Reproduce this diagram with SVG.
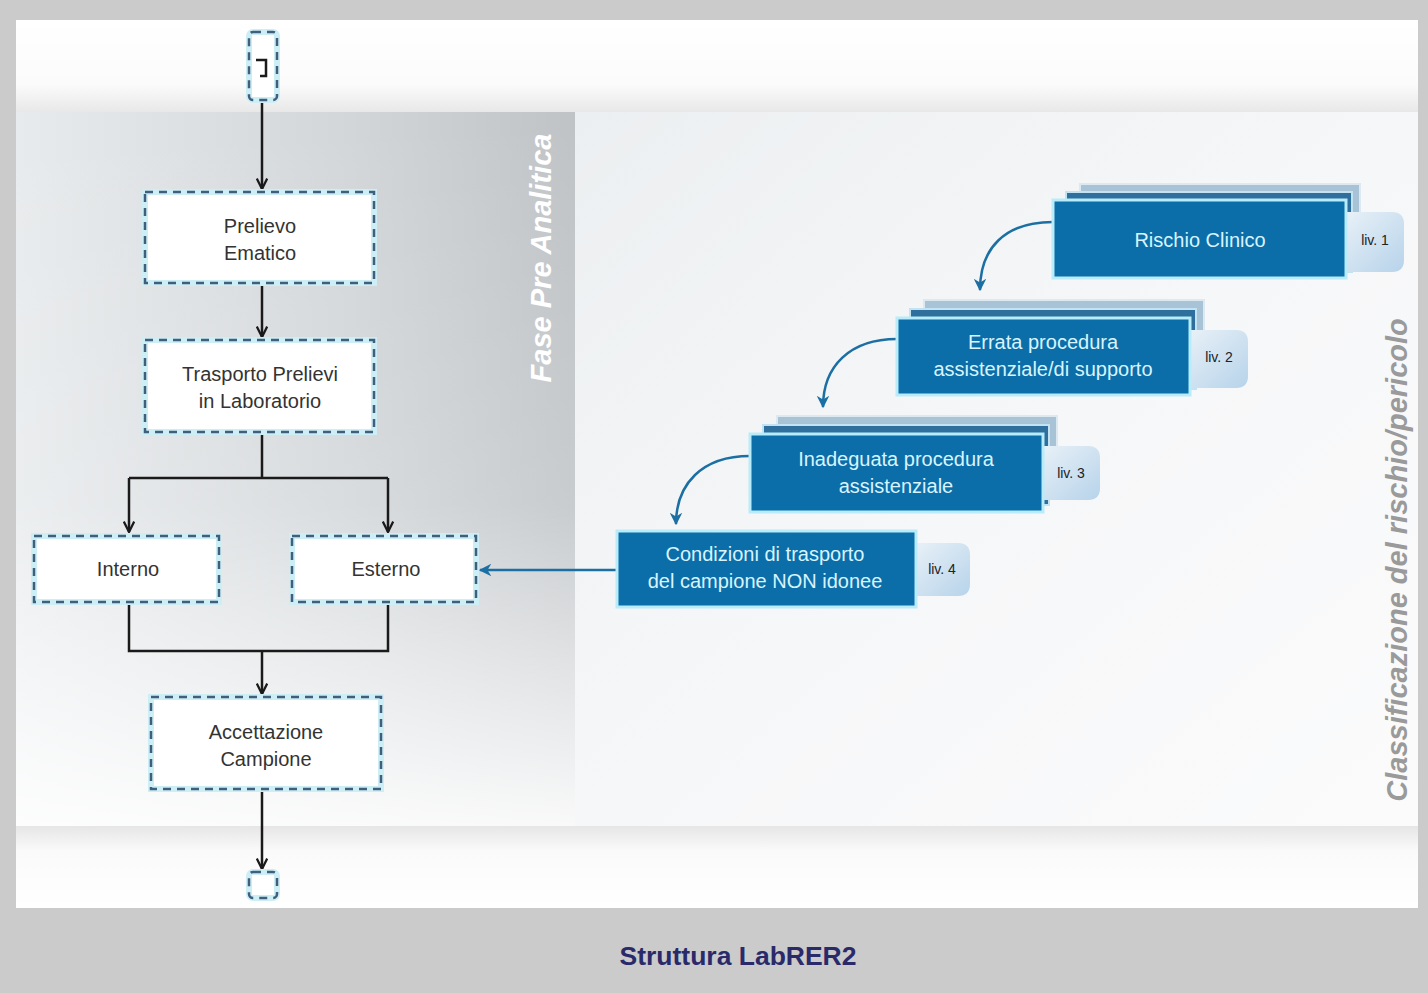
<svg xmlns="http://www.w3.org/2000/svg" width="1428" height="993" viewBox="0 0 1428 993">
<defs>
<linearGradient id="leftH" x1="0" y1="0" x2="1" y2="0">
<stop offset="0" stop-color="#e8ebed"/>
<stop offset="0.6" stop-color="#d2d6d9"/>
<stop offset="1" stop-color="#bfc3c6"/>
</linearGradient>
<linearGradient id="leftV" x1="0" y1="0" x2="0" y2="1">
<stop offset="0" stop-color="#ffffff" stop-opacity="0"/>
<stop offset="0.55" stop-color="#ffffff" stop-opacity="0.15"/>
<stop offset="1" stop-color="#ffffff" stop-opacity="0.9"/>
</linearGradient>
<linearGradient id="rightBg" x1="0" y1="0" x2="1" y2="1">
<stop offset="0" stop-color="#eceff1"/>
<stop offset="0.5" stop-color="#f6f7f8"/>
<stop offset="1" stop-color="#fbfbfc"/>
</linearGradient>
<linearGradient id="topShade" x1="0" y1="0" x2="0" y2="1">
<stop offset="0" stop-color="#ffffff"/>
<stop offset="0.7" stop-color="#fbfbfb"/>
<stop offset="1" stop-color="#e8e8e8"/>
</linearGradient>
<linearGradient id="botShade" x1="0" y1="0" x2="0" y2="1">
<stop offset="0" stop-color="#e6e6e6"/>
<stop offset="0.3" stop-color="#fafafa"/>
<stop offset="1" stop-color="#ffffff"/>
</linearGradient>
<linearGradient id="tab" x1="0" y1="0" x2="1" y2="1">
<stop offset="0" stop-color="#eaf2f8"/>
<stop offset="1" stop-color="#b7d3ea"/>
</linearGradient>
<marker id="arrK" viewBox="0 0 12 12" refX="11" refY="6" markerWidth="5" markerHeight="5" orient="auto" markerUnits="strokeWidth">
<path d="M1,1 L11,6 L1,11" fill="none" stroke="#1a1a1a" stroke-width="2.2"/>
</marker>
<marker id="arrB" viewBox="0 0 10 10" refX="9" refY="5" markerWidth="5" markerHeight="5" orient="auto" markerUnits="strokeWidth">
<path d="M0,0 L10,5 L0,10 L3,5 z" fill="#1b6fa3"/>
</marker>
</defs>
<style>
.glow{fill:#ffffff;stroke:#cdeef5;stroke-width:6}
.dash{fill:none;stroke:#3f5f7c;stroke-width:2.5;stroke-dasharray:8 6}
.ntxt{font-family:"Liberation Sans",Arial,sans-serif;font-size:20px;fill:#333333;text-anchor:middle}
.conn{fill:none;stroke:#1a1a1a;stroke-width:2.5}
.bconn{fill:none;stroke:#1b6fa3;stroke-width:2.5}
.blue{fill:#0b6ea8;stroke:#b8ecfa;stroke-width:3}
.lay1{fill:#2f6f9e;stroke:#c3e2f2;stroke-width:2}
.lay2{fill:#a9c3d6;stroke:#dde9f1;stroke-width:2}
.btxt{font-family:"Liberation Sans",Arial,sans-serif;font-size:20px;fill:#d8f4ff;text-anchor:middle}
.tabr{fill:url(#tab)}
.ttxt{font-family:"Liberation Sans",Arial,sans-serif;font-size:14px;fill:#222222;text-anchor:middle}
</style>
<rect x="0" y="0" width="1428" height="993" fill="#cbcbcb"/>
<rect x="16" y="20" width="1402" height="888" fill="#ffffff"/>
<rect x="16" y="20" width="1402" height="92" fill="url(#topShade)"/>
<rect x="16" y="112" width="559" height="714" fill="url(#leftH)"/>
<rect x="16" y="112" width="559" height="714" fill="url(#leftV)"/>
<rect x="575" y="112" width="843" height="714" fill="url(#rightBg)"/>
<rect x="16" y="826" width="1402" height="82" fill="url(#botShade)"/>
<text transform="translate(551,258) rotate(-90)" font-family="Liberation Sans,Arial,sans-serif" font-size="29" font-weight="bold" font-style="italic" fill="#ffffff" text-anchor="middle">Fase Pre Analitica</text>
<text transform="translate(1407,560) rotate(-90)" font-family="Liberation Sans,Arial,sans-serif" font-size="29" font-weight="bold" font-style="italic" fill="#9a9a9a" text-anchor="middle">Classificazione del rischio/pericolo</text>
<g id="connectors">
<path class="conn" d="M262,100 V189" marker-end="url(#arrK)"/>
<path class="conn" d="M262,283 V337" marker-end="url(#arrK)"/>
<path class="conn" d="M262,432 V478 M129,478 H388"/>
<path class="conn" d="M129,478 V532" marker-end="url(#arrK)"/>
<path class="conn" d="M388,478 V532" marker-end="url(#arrK)"/>
<path class="conn" d="M129,602 V651 H388 V602"/>
<path class="conn" d="M262,651 V694" marker-end="url(#arrK)"/>
<path class="conn" d="M262,789 V869" marker-end="url(#arrK)"/>
<path class="bconn" d="M617,570 H480" marker-end="url(#arrB)"/>
<path class="bconn" d="M1053,222 C1005,222 980,248 980,290" marker-end="url(#arrB)"/>
<path class="bconn" d="M897,339 C850,339 823,366 823,407" marker-end="url(#arrB)"/>
<path class="bconn" d="M750,456 C702,456 676,484 676,524" marker-end="url(#arrB)"/>
</g>
<g id="start">
<rect x="249" y="32" width="28" height="68" rx="4" class="glow" stroke-width="3"/>
<rect x="249" y="32" width="28" height="68" rx="4" class="dash" stroke-dasharray="6 8" stroke-width="2"/>
<path d="M256,60 H266 V76 H260" fill="none" stroke="#1a1a1a" stroke-width="2.5"/>
</g>
<g id="prelievo">
<rect x="145" y="192" width="229" height="91" class="glow"/>
<rect x="145" y="192" width="229" height="91" class="dash"/>
<text class="ntxt" x="260" y="233">Prelievo</text>
<text class="ntxt" x="260" y="260">Ematico</text>
</g>
<g id="trasporto">
<rect x="145" y="340" width="229" height="92" class="glow"/>
<rect x="145" y="340" width="229" height="92" class="dash"/>
<text class="ntxt" x="260" y="381">Trasporto Prelievi</text>
<text class="ntxt" x="260" y="408">in Laboratorio</text>
</g>
<g id="interno">
<rect x="34" y="536" width="185" height="66" class="glow"/>
<rect x="34" y="536" width="185" height="66" class="dash"/>
<text class="ntxt" x="128" y="576">Interno</text>
</g>
<g id="esterno">
<rect x="292" y="536" width="184" height="66" class="glow"/>
<rect x="292" y="536" width="184" height="66" class="dash"/>
<text class="ntxt" x="386" y="576">Esterno</text>
</g>
<g id="accettazione">
<rect x="151" y="697" width="230" height="92" class="glow"/>
<rect x="151" y="697" width="230" height="92" class="dash"/>
<text class="ntxt" x="266" y="739">Accettazione</text>
<text class="ntxt" x="266" y="766">Campione</text>
</g>
<g id="end">
<rect x="249" y="872" width="28" height="26" rx="4" class="glow" stroke-width="3"/>
<rect x="249" y="872" width="28" height="26" rx="4" class="dash" stroke-dasharray="6 8" stroke-width="2"/>
</g>
<g id="liv1">
<rect x="1080" y="184" width="280" height="80" class="lay2"/>
<rect x="1066" y="192" width="286" height="80" class="lay1"/>
<path class="tabr" d="M1340,212 H1392 Q1404,212 1404,224 V260 Q1404,272 1392,272 H1340 Z"/>
<rect x="1053" y="200" width="293" height="78" class="blue"/>
<text class="btxt" x="1200" y="247">Rischio Clinico</text>
<text class="ttxt" x="1375" y="245">liv. 1</text>
</g>
<g id="liv2">
<rect x="924" y="300" width="280" height="80" class="lay2"/>
<rect x="910" y="309" width="286" height="80" class="lay1"/>
<path class="tabr" d="M1184,330 H1236 Q1248,330 1248,342 V376 Q1248,388 1236,388 H1184 Z"/>
<rect x="897" y="318" width="293" height="77" class="blue"/>
<text class="btxt" x="1043" y="349">Errata procedura</text>
<text class="btxt" x="1043" y="376">assistenziale/di supporto</text>
<text class="ttxt" x="1219" y="362">liv. 2</text>
</g>
<g id="liv3">
<rect x="777" y="416" width="280" height="80" class="lay2"/>
<rect x="763" y="425" width="286" height="80" class="lay1"/>
<path class="tabr" d="M1037,446 H1088 Q1100,446 1100,458 V488 Q1100,500 1088,500 H1037 Z"/>
<rect x="750" y="434" width="293" height="78" class="blue"/>
<text class="btxt" x="896" y="466">Inadeguata procedura</text>
<text class="btxt" x="896" y="493">assistenziale</text>
<text class="ttxt" x="1071" y="478">liv. 3</text>
</g>
<g id="liv4">
<path class="tabr" d="M910,543 H958 Q970,543 970,555 V584 Q970,596 958,596 H910 Z"/>
<rect x="617" y="531" width="299" height="76" class="blue"/>
<text class="btxt" x="765" y="561">Condizioni di trasporto</text>
<text class="btxt" x="765" y="588">del campione NON idonee</text>
<text class="ttxt" x="942" y="574">liv. 4</text>
</g>
<text x="738" y="965" font-family="Liberation Sans,Arial,sans-serif" font-size="25" font-weight="bold" fill="#2a2a6a" text-anchor="middle" textLength="237" lengthAdjust="spacingAndGlyphs">Struttura LabRER2</text>
</svg>
